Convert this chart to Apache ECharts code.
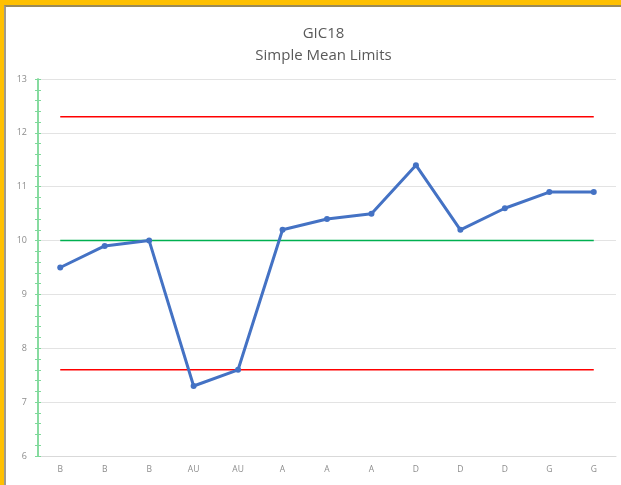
<!DOCTYPE html>
<html>
<head>
<meta charset="utf-8">
<script src="https://cdn.jsdelivr.net/npm/echarts@6/dist/echarts.min.js"></script>
<style>
  html, body { margin: 0; padding: 0; width: 621px; height: 485px; overflow: hidden; background: #FFC000; }
  #frame { position: absolute; left: 4px; top: 5px; width: 617px; height: 480px; background: #fff;
           border-left: 2px solid #a09a8a; border-top: 2px solid #9a8a5a; box-sizing: border-box; }
  #chart { position: absolute; left: 0; top: 0; width: 615px; height: 478px; }
</style>
</head>
<body>
<div id="frame"><div id="chart"></div></div>
<script>
const categories = ['B', 'B', 'B', 'AU', 'AU', 'A', 'A', 'A', 'D', 'D', 'D', 'G', 'G'];
const values = [9.5, 9.9, 10.0, 7.3, 7.6, 10.2, 10.4, 10.5, 11.4, 10.2, 10.6, 10.9, 10.9];
const ucl = 12.3;
const mean = 10.0;
const lcl = 7.6;
const yTicks = { min: 6, max: 13, interval: 1 };

const constSeries = v => categories.map(() => v);

const chart = echarts.init(document.getElementById('chart'), null, { renderer: 'canvas' });
const fontFam = '"Open Sans", "Liberation Sans", sans-serif';
chart.setOption({
  animation: false,
  title: {
    text: 'GIC18\nSimple Mean Limits',
    left: 312.5,
    textAlign: 'center',
    top: 11,
    textStyle: { fontFamily: fontFam, fontSize: 15, fontWeight: 'normal', color: '#595959', lineHeight: 22 }
  },
  grid: { left: 32, right: 5, top: 72, bottom: 29, containLabel: false },
  xAxis: {
    type: 'category',
    data: categories,
    boundaryGap: true,
    axisLine: { show: true, lineStyle: { color: '#d9d9d9', width: 1 } },
    axisTick: { show: false },
    axisLabel: { color: '#8c8c8c', fontSize: 8.5, fontFamily: fontFam, margin: 9, interval: 0 }
  },
  yAxis: [
    {
      type: 'value',
      min: yTicks.min, max: yTicks.max, interval: yTicks.interval,
      axisLine: { show: true, lineStyle: { color: '#7fd99a', width: 1.5 } },
      axisTick: { show: true, length: 3, lineStyle: { color: '#7fd99a', width: 1 } },
      minorTick: { show: true, splitNumber: 5, length: 3, lineStyle: { color: '#7fd99a', width: 1 } },
      splitLine: { show: true, lineStyle: { color: '#e3e3e3', width: 1 } },
      axisLabel: { color: '#8c8c8c', fontSize: 9, fontFamily: fontFam, margin: 11 }
    },
    {
      type: 'value',
      position: 'left',
      min: yTicks.min, max: yTicks.max, interval: yTicks.interval,
      axisLine: { show: true, lineStyle: { color: '#7fd99a', width: 1.5 } },
      axisTick: { show: true, inside: true, length: 3, lineStyle: { color: '#7fd99a', width: 1 } },
      minorTick: { show: true, splitNumber: 5, length: 3, lineStyle: { color: '#7fd99a', width: 1 } },
      splitLine: { show: false },
      axisLabel: { show: false }
    }
  ],
  series: [
    { name: 'UCL', type: 'line', data: constSeries(ucl), showSymbol: false, lineStyle: { color: '#ff0000', width: 1.5 }, z: 2 },
    { name: 'Mean', type: 'line', data: constSeries(mean), showSymbol: false, lineStyle: { color: '#00b050', width: 1.5 }, z: 2 },
    { name: 'LCL', type: 'line', data: constSeries(lcl), showSymbol: false, lineStyle: { color: '#ff0000', width: 1.5 }, z: 2 },
    { name: 'GIC18', type: 'line', data: values, symbol: 'circle', symbolSize: 6,
      itemStyle: { color: '#4472c4' }, lineStyle: { color: '#4472c4', width: 3 }, z: 3 }
  ]
});
</script>
</body>
</html>
